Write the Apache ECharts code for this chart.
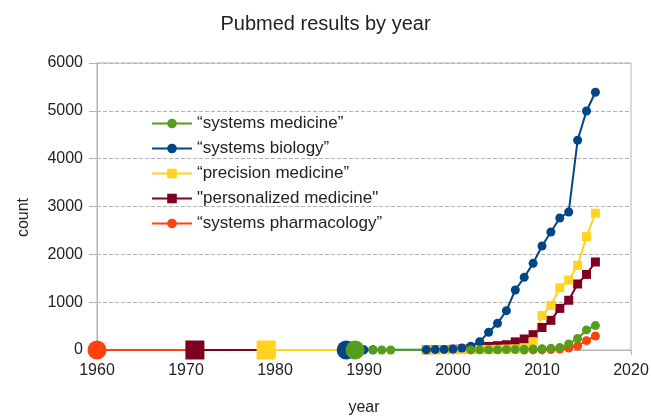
<!DOCTYPE html>
<html>
<head>
<meta charset="utf-8">
<script src="https://cdn.jsdelivr.net/npm/echarts@6/dist/echarts.min.js"></script>
<style>
  html, body { margin: 0; padding: 0; background: #fff; }
  #chart { width: 651px; height: 417px; }
</style>
</head>
<body>
<div id="chart"></div>
<script>
// years and counts
const medYears = [1989, 1991, 1992, 1993, 2002, 2003, 2004, 2005, 2006, 2007, 2008, 2009, 2010, 2011, 2012, 2013, 2014, 2015, 2016];
const medVals  = [0, 0, 0, 0, 2, 3, 5, 5, 8, 10, 15, 20, 25, 35, 50, 125, 240, 420, 510];

const bioYears = [1988, 1990, 1991, 1997, 1998, 1999, 2000, 2001, 2002, 2003, 2004, 2005, 2006, 2007, 2008, 2009, 2010, 2011, 2012, 2013, 2014, 2015, 2016];
const bioVals  = [0, 3, 5, 5, 8, 12, 20, 40, 80, 174, 370, 558, 822, 1254, 1519, 1812, 2174, 2467, 2760, 2885, 4384, 4997, 5388];

const precYears = [1979, 1997, 1998, 1999, 2000, 2001, 2002, 2003, 2004, 2005, 2006, 2007, 2008, 2009, 2010, 2011, 2012, 2013, 2014, 2015, 2016];
const precVals  = [0, 2, 3, 4, 5, 5, 8, 10, 12, 15, 20, 25, 40, 174, 720, 930, 1300, 1460, 1770, 2370, 2860];

const persYears = [1971, 1997, 1998, 1999, 2000, 2001, 2002, 2003, 2004, 2005, 2006, 2007, 2008, 2009, 2010, 2011, 2012, 2013, 2014, 2015, 2016];
const persVals  = [0, 5, 8, 10, 15, 20, 30, 60, 75, 90, 110, 170, 230, 320, 470, 620, 870, 1040, 1380, 1580, 1840];

const pharmYears = [1960, 2008, 2009, 2010, 2011, 2012, 2013, 2014, 2015, 2016];
const pharmVals  = [0, 1, 2, 5, 10, 20, 40, 84, 195, 293];

const names = ['\u201csystems medicine\u201d', '\u201csystems biology\u201d', '\u201cprecision medicine\u201d', '"personalized medicine"', '\u201csystems pharmacology\u201d'];

const chart = echarts.init(document.getElementById('chart'));

const pairs = (xs, ys) => xs.map((x, i) => [x, ys[i]]);
const bigFirst = (v, p) => p.dataIndex === 0 ? 19 : 9;

function mk(name, xs, ys, color, symbol) {
  return {
    name: name,
    type: 'line',
    data: pairs(xs, ys),
    symbol: symbol,
    symbolSize: bigFirst,
    showAllSymbol: true,
    itemStyle: { color: color },
    lineStyle: { color: color, width: 2 },
    emphasis: { disabled: true },
    animation: false
  };
}

const txt = '#222';
chart.setOption({
  title: {
    text: 'Pubmed results by year',
    left: 'center',
    top: 9,
    textStyle: { fontFamily: 'Liberation Sans', fontSize: 20, fontWeight: 'normal', color: txt }
  },
  legend: {
    orient: 'vertical',
    left: 146,
    top: 110,
    itemWidth: 40,
    itemHeight: 12,
    itemGap: 8,
    data: names,
    textStyle: { fontFamily: 'Liberation Sans', fontSize: 17, color: txt, lineHeight: 17 }
  },
  grid: { left: 97, right: 20, top: 63, bottom: 67, show: true, borderColor: '#b3b3b3', borderWidth: 1, outerBoundsMode: 'none' },
  xAxis: {
    type: 'value',
    min: 1960, max: 2020, interval: 10,
    name: 'year',
    nameLocation: 'middle',
    nameGap: 50,
    nameTextStyle: { fontFamily: 'Liberation Sans', fontSize: 16, color: txt },
    axisLine: { show: true, onZero: false, lineStyle: { color: '#b3b3b3' } },
    axisTick: { show: true, length: 5, lineStyle: { color: '#b3b3b3' } },
    axisLabel: { fontFamily: 'Liberation Sans', fontSize: 16, color: txt, margin: 13, formatter: v => String(v) },
    splitLine: { show: false }
  },
  yAxis: {
    type: 'value',
    min: 0, max: 6000, interval: 1000,
    name: 'count',
    nameLocation: 'middle',
    nameGap: 65,
    nameRotate: 90,
    nameTextStyle: { fontFamily: 'Liberation Sans', fontSize: 16, color: txt, padding: [0, 22, 0, 0] },
    axisLine: { show: true, lineStyle: { color: '#b3b3b3' } },
    axisTick: { show: true, length: 8, lineStyle: { color: '#b3b3b3' } },
    axisLabel: { fontFamily: 'Liberation Sans', fontSize: 16, color: txt, margin: 14, formatter: v => String(v) },
    splitLine: { show: true, lineStyle: { color: '#b3b3b3', type: 'dashed' } }
  },
  // drawn bottom to top: pharmacology first, medicine last
  series: [
    mk(names[4], pharmYears, pharmVals, '#ff420e', 'circle'),
    mk(names[3], persYears, persVals, '#7e0021', 'rect'),
    mk(names[2], precYears, precVals, '#ffd320', 'rect'),
    mk(names[1], bioYears, bioVals, '#004586', 'circle'),
    mk(names[0], medYears, medVals, '#579d1c', 'circle')
  ]
});
</script>
</body>
</html>
